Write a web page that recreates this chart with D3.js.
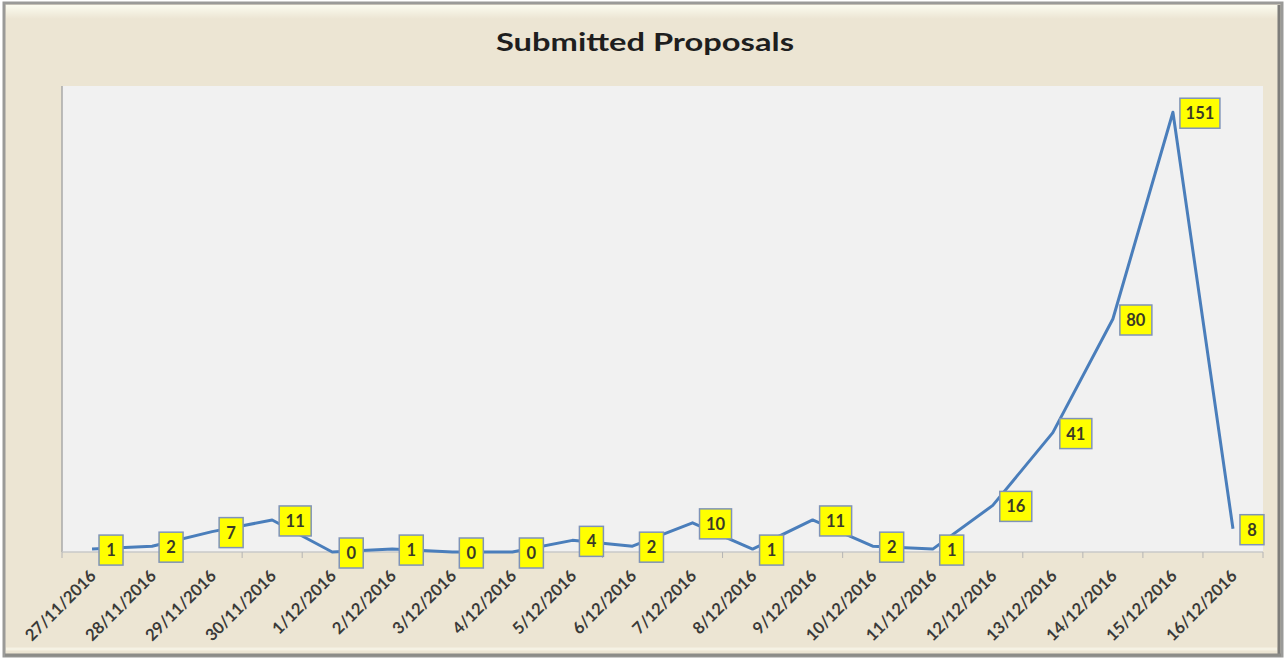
<!DOCTYPE html>
<html>
<head>
<meta charset="utf-8">
<script src="https://cdn.jsdelivr.net/npm/d3@7"></script>
<style>
html,body{margin:0;padding:0;background:#ffffff;}
svg{display:block;}
</style>
</head>
<body>
<script>
const categories = ["27/11/2016","28/11/2016","29/11/2016","30/11/2016","1/12/2016","2/12/2016","3/12/2016","4/12/2016","5/12/2016","6/12/2016","7/12/2016","8/12/2016","9/12/2016","10/12/2016","11/12/2016","12/12/2016","13/12/2016","14/12/2016","15/12/2016","16/12/2016"];
const proposals = [1,2,7,11,0,1,0,0,4,2,10,1,11,2,1,16,41,80,151,8];
const yDomain = [0,160];
const title = "Submitted Proposals";

const W = 1285, H = 659;
const plot = {left:62, top:86, right:1263, bottom:552};

const svg = d3.select("body").append("svg").attr("width",W).attr("height",H);

const defs = svg.append("defs");
const g1 = defs.append("linearGradient").attr("id","topHi").attr("x1",0).attr("y1",0).attr("x2",0).attr("y2",1);
g1.append("stop").attr("offset","0%").attr("stop-color","#fbfbef");
g1.append("stop").attr("offset","100%").attr("stop-color","#ece5d3");

// outer frame
svg.append("rect").attr("x",0).attr("y",0).attr("width",W).attr("height",H).attr("fill","#ffffff");
svg.append("rect").attr("x",4).attr("y",3).attr("width",1278).attr("height",653)
  .attr("fill","#ece5d3").attr("stroke","#9a9a98").attr("stroke-width",3);
svg.append("rect").attr("x",6).attr("y",5).attr("width",1273).attr("height",14).attr("fill","url(#topHi)");
svg.append("line").attr("x1",1279).attr("x2",1279).attr("y1",5).attr("y2",655).attr("stroke","#7d7d7a").attr("stroke-width",3);
svg.append("line").attr("x1",5).attr("x2",1281).attr("y1",655).attr("y2",655).attr("stroke","#8c8c88").attr("stroke-width",3);
svg.append("line").attr("x1",6).attr("x2",1277).attr("y1",649).attr("y2",649).attr("stroke","#f5f2e4").attr("stroke-width",3);

// title
svg.append("text").attr("x",645).attr("y",51).attr("text-anchor","middle")
  .attr("font-family","Lato, 'Open Sans', sans-serif").attr("font-weight","bold")
  .attr("font-size",25).attr("fill","#1e1e1e")
  .attr("textLength",298).attr("lengthAdjust","spacingAndGlyphs").text(title);

// plot area
svg.append("rect").attr("x",plot.left).attr("y",plot.top)
  .attr("width",plot.right-plot.left).attr("height",plot.bottom-plot.top).attr("fill","#f1f1f1");

const x = d3.scaleBand().domain(categories).range([plot.left,plot.right]).padding(0);
const y = d3.scaleLinear().domain(yDomain).range([plot.bottom,plot.top]);
const cx = d => x(d) + x.bandwidth()/2;

// y axis line
svg.append("line").attr("x1",plot.left).attr("x2",plot.left).attr("y1",plot.top).attr("y2",plot.bottom)
  .attr("stroke","#a8a8a8").attr("stroke-width",1.5);

// x axis
const xAxis = svg.append("g").attr("transform",`translate(0,${plot.bottom})`);
xAxis.append("line").attr("x1",plot.left).attr("x2",plot.right).attr("y1",0).attr("y2",0)
  .attr("stroke","#c8c8c8").attr("stroke-width",1.5);
const boundaries = categories.map(c => x(c)).concat([plot.right]);
xAxis.selectAll("line.tick").data(boundaries).join("line").attr("class","tick")
  .attr("x1",d=>d).attr("x2",d=>d).attr("y1",0).attr("y2",6).attr("stroke","#b4b4b4").attr("stroke-width",1);
xAxis.selectAll("text").data(categories).join("text")
  .attr("transform",d=>`translate(${cx(d)+1},${21}) rotate(-45)`)
  .attr("text-anchor","end").attr("dy","0.35em")
  .attr("font-family","Lato, 'Open Sans', sans-serif").attr("font-weight","bold")
  .attr("font-size",16.5).attr("fill","#3a3a38").text(d=>d);

// line
const line = d3.line().x((d,i)=>cx(categories[i])).y(d=>y(d));
svg.append("path").datum(proposals).attr("d",line).attr("fill","none")
  .attr("stroke","#4a7ebb").attr("stroke-width",3).attr("stroke-linejoin","round");

// data labels
const lbl = svg.append("g");
proposals.forEach((v,i)=>{
  const px = cx(categories[i]), py = y(v);
  const s = String(v);
  const w = 16 + s.length*8;
  const g = lbl.append("g").attr("transform",`translate(${px+7},${py+1})`);
  g.append("rect").attr("x",0).attr("y",-15).attr("width",w).attr("height",30)
    .attr("fill","#ffff00").attr("stroke","#7f93b8").attr("stroke-width",1.5);
  g.append("text").attr("x",w/2).attr("y",0).attr("dy","0.36em").attr("text-anchor","middle")
    .attr("font-family","Lato, 'Open Sans', sans-serif").attr("font-weight","bold")
    .attr("font-size",16.5).attr("fill","#3a3a28").text(s);
});
</script>
</body>
</html>
